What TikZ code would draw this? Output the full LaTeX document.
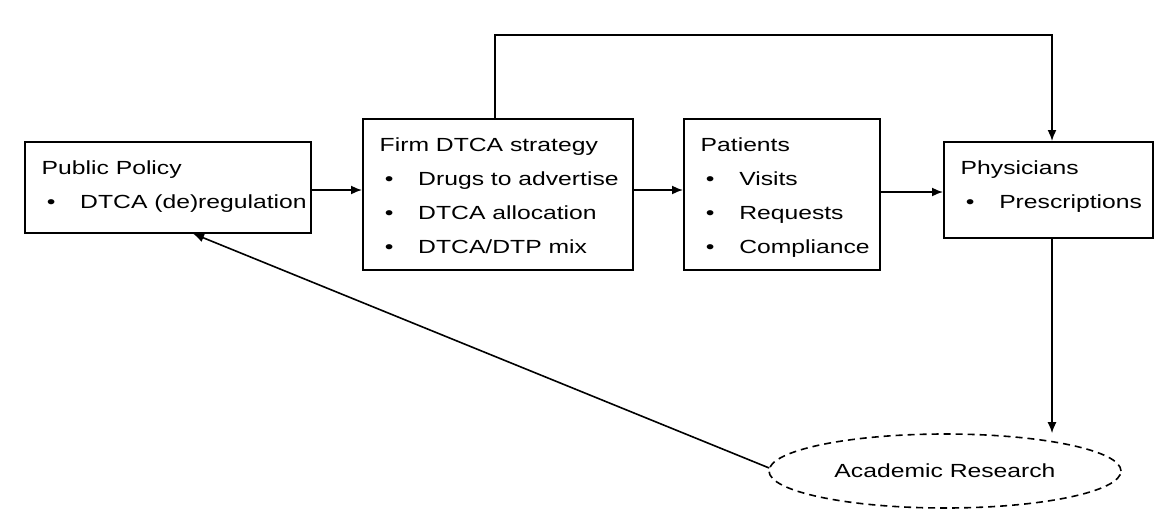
\documentclass[tikz,border=0pt]{standalone}
\usepackage{fontspec}
\setmainfont{Liberation Sans}
\usetikzlibrary{arrows.meta,shapes.geometric}
\newcommand\bx[3]{\scalebox{1.3}[1]{\parbox[t][#2pt][t]{#1pt}{\fontsize{19}{34}\selectfont\raggedright\rule{0pt}{33pt}\hspace*{13pt}#3}}}
\newcommand\bl[1]{\par\hspace*{17pt}\textbullet\hspace{19pt}#1}
\begin{document}
\begin{tikzpicture}[x=1pt,y=-1pt,
  box/.style={draw,line width=1.6pt,anchor=north west,inner sep=0pt},
  arr/.style={line width=1.6pt,-{Latex[length=11pt,width=9pt]}}]
\useasboundingbox (0,0) rectangle (1162,528);
\node[box] (pp) at (24,141) {\bx{220}{91}{Public Policy\bl{DTCA (de)regulation}}};
\node[box] (firm) at (362,118) {\bx{208}{151}{Firm DTCA strategy\bl{Drugs to advertise}\bl{DTCA allocation}\bl{DTCA/DTP mix}}};
\node[box] (pat) at (683,118) {\bx{151}{151}{Patients\bl{Visits}\bl{Requests}\bl{Compliance}}};
\node[box] (phy) at (943,141) {\bx{161}{96}{Physicians\bl{Prescriptions}}};
\node[draw,dashed,dash pattern=on 7pt off 5pt,line width=1.6pt,ellipse,minimum width=352pt,minimum height=74pt,inner sep=0pt] (ar) at (945,471) {\scalebox{1.3}[1]{\fontsize{19}{22}\selectfont Academic Research}};
\coordinate (t1) at (495,35);
\coordinate (t2) at (1052,35);
\draw[arr] (pp.east |- 0,190) -- (firm.west |- 0,190);
\draw[arr] (firm.east |- 0,190) -- (pat.west |- 0,190);
\draw[arr] (pat.east |- 0,192) -- (phy.west |- 0,192);
\draw[arr] (firm.north -| t1) -- (t1) -- (t2) -- (phy.north -| t2);
\draw[arr] (phy.south -| t2) -- (ar.north -| t2);
\draw[arr] (ar.west) ++(1,-3) -- (pp.south -| 193,0);
\end{tikzpicture}
\end{document}
